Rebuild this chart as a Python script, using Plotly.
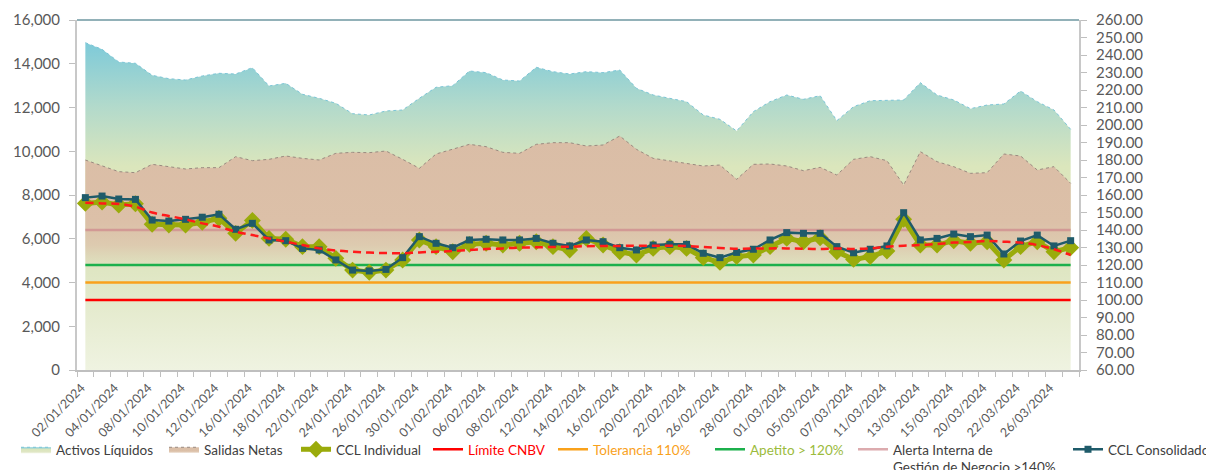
import plotly.graph_objects as go

dates = [
    "02/01/2024", "03/01/2024", "04/01/2024", "05/01/2024",
    "08/01/2024", "09/01/2024", "10/01/2024", "11/01/2024", "12/01/2024",
    "15/01/2024", "16/01/2024", "17/01/2024", "18/01/2024", "19/01/2024",
    "22/01/2024", "23/01/2024", "24/01/2024", "25/01/2024", "26/01/2024",
    "29/01/2024", "30/01/2024", "31/01/2024", "01/02/2024", "02/02/2024",
    "06/02/2024", "07/02/2024", "08/02/2024", "09/02/2024",
    "12/02/2024", "13/02/2024", "14/02/2024", "15/02/2024", "16/02/2024",
    "19/02/2024", "20/02/2024", "21/02/2024", "22/02/2024", "23/02/2024",
    "26/02/2024", "27/02/2024", "28/02/2024", "29/02/2024", "01/03/2024",
    "04/03/2024", "05/03/2024", "06/03/2024", "07/03/2024", "08/03/2024",
    "11/03/2024", "12/03/2024", "13/03/2024", "14/03/2024", "15/03/2024",
    "19/03/2024", "20/03/2024", "21/03/2024", "22/03/2024",
    "25/03/2024", "26/03/2024", "27/03/2024",
]

activos_liquidos = [
    14963, 14659, 14080, 14020, 13470, 13317, 13257, 13440, 13563, 13531,
    13820, 12983, 13106, 12603, 12420, 12191, 11717, 11657, 11840, 11886,
    12420, 12923, 12997, 13669, 13593, 13257, 13211, 13837, 13639, 13531,
    13639, 13593, 13714, 12876, 12571, 12420, 12267, 11657, 11459, 10926,
    11810, 12267, 12571, 12374, 12541, 11397, 12037, 12311, 12311, 12343,
    13135, 12571, 12343, 11947, 12114, 12160, 12754, 12267, 11886, 11002,
]

salidas_netas = [
    9600, 9326, 9067, 9021, 9402, 9295, 9189, 9250, 9250, 9752,
    9570, 9630, 9783, 9676, 9600, 9905, 9950, 9935, 10011, 9630,
    9219, 9874, 10088, 10316, 10210, 9950, 9905, 10316, 10392, 10392,
    10240, 10286, 10697, 10088, 9676, 9570, 9448, 9326, 9371, 8716,
    9402, 9417, 9326, 9112, 9265, 8914, 9630, 9752, 9570, 8457,
    9981, 9524, 9295, 8990, 9021, 9874, 9783, 9143, 9295, 8533,
]

ccl_individual = [
    155.2, 156.0, 154.3, 155.0, 143.3, 142.9, 142.9, 144.4, 146.7, 138.1,
    145.5, 135.2, 134.7, 130.5, 130.5, 123.8, 117.1, 115.8, 117.1, 122.9,
    134.3, 130.5, 127.6, 131.8, 132.4, 131.4, 132.4, 133.3, 130.5, 128.6,
    135.2, 131.4, 127.6, 125.7, 129.5, 130.5, 129.5, 124.2, 121.5, 124.8,
    125.7, 130.5, 135.2, 133.3, 135.6, 127.6, 123.2, 124.8, 128.0, 146.1,
    131.4, 131.4, 133.9, 132.4, 133.3, 122.9, 130.5, 133.3, 127.6, 129.9,
]

ccl_consolidado = [
    158.5, 159.4, 157.7, 157.5, 145.7, 145.1, 146.1, 147.3, 149.0, 140.4,
    143.8, 134.3, 133.9, 129.5, 128.6, 122.9, 117.1, 116.6, 117.5, 124.2,
    136.2, 132.4, 129.9, 134.3, 134.7, 134.3, 134.3, 135.2, 132.4, 130.9,
    134.3, 133.3, 129.9, 128.6, 131.4, 131.8, 131.8, 126.7, 124.2, 127.2,
    129.0, 134.3, 138.5, 138.1, 138.1, 130.5, 127.0, 129.0, 130.9, 149.9,
    134.3, 135.2, 137.7, 136.2, 137.1, 126.3, 133.7, 137.1, 130.9, 133.9,
]

tendencia = [
    155.6, 155.2, 154.9, 153.3, 150.0, 148.0, 146.1, 143.8, 141.9, 139.0,
    137.1, 135.2, 133.3, 131.4, 129.5, 128.3, 127.6, 127.1, 126.8, 126.7,
    127.2, 127.6, 128.0, 128.6, 129.1, 129.5, 129.9, 130.1, 130.3, 130.5,
    130.7, 130.9, 130.9, 131.0, 131.0, 131.0, 130.9, 130.3, 129.7, 129.3,
    129.4, 129.5, 129.5, 129.3, 129.2, 129.5, 129.2, 129.5, 130.5, 131.0,
    131.4, 132.0, 132.8, 133.1, 133.7, 133.3, 132.8, 131.4, 129.0, 125.7,
]

limite_cnbv = 100
tolerancia = 110
apetito = 120
alerta = 140

tick_labels = [d if i % 2 == 0 else "" for i, d in enumerate(dates)]

FONT = "Lato"
GRAY = "#595959"
W, H = 1206, 462   # the page body adds an 8px offset

fig = go.Figure()

fig.add_trace(go.Scatter(
    x=dates, y=activos_liquidos, mode="lines", fill="tozeroy",
    name='<span style="color:#404040">Activos Líquidos</span>',
    line=dict(color="#7cc5d6", width=1, dash="dot"),
    fillgradient=dict(type="vertical", start=0, stop=15000,
                      colorscale=[[0, "#eff3e1"], [0.3, "#dfe6c3"],
                                  [0.62, "#dbe6bc"], [0.8, "#b3dacb"],
                                  [1, "#7dcad9"]]),
    legend="legend",
))
fig.add_trace(go.Scatter(
    x=dates, y=salidas_netas, mode="lines", fill="tozeroy",
    name='<span style="color:#404040">Salidas Netas</span>',
    line=dict(color="#9a8a80", width=1, dash="dot"),
    fillgradient=dict(type="vertical", start=4600, stop=10700,
                      colorscale=[[0, "rgba(221,196,170,0)"],
                                  [0.18, "rgba(221,194,170,0.75)"],
                                  [0.35, "rgba(220,192,168,1)"],
                                  [1, "rgba(218,189,166,1)"]]),
    legend="legend2",
))

for val, color, nm, lg, w in [
    (limite_cnbv, "#ff0000", '<span style="color:#ff0000">Límite CNBV</span>', "legend4", 2.5),
    (tolerancia, "#f9a11b", '<span style="color:#f9a11b">Tolerancia 110%</span>', "legend5", 2.5),
    (apetito, "#1cb04c", '<span style="color:#9bbb3c">Apetito &gt; 120%</span>', "legend6", 2.5),
    (alerta, "rgba(205,135,140,0.7)", '<span style="color:#404040">Alerta Interna de<br>Gestión de Negocio &gt;140%</span>', "legend7", 2.5),
]:
    fig.add_trace(go.Scatter(
        x=dates, y=[val] * len(dates), mode="lines", yaxis="y2",
        name=nm, line=dict(color=color, width=w), legend=lg,
    ))

fig.add_trace(go.Scatter(
    x=dates, y=ccl_individual, mode="lines+markers", yaxis="y2",
    name='<span style="color:#404040">CCL Individual</span>',
    line=dict(color="#9aab0b", width=5),
    marker=dict(symbol="diamond", size=13, color="#9aab0b"),
    legend="legend3",
))
fig.add_trace(go.Scatter(
    x=dates, y=ccl_consolidado, mode="lines+markers", yaxis="y2",
    name='<span style="color:#404040">CCL Consolidado</span>',
    line=dict(color="#1f5b6a", width=2.5),
    marker=dict(symbol="square", size=7, color="#1f5b6a"),
    legend="legend8",
))
fig.add_trace(go.Scatter(
    x=dates, y=tendencia, mode="lines", yaxis="y2", showlegend=False,
    line=dict(color="#ff1a1a", width=2.5, dash="8px,5px", shape="spline"),
    hoverinfo="skip",
))

legend_pos = {
    "legend": 8, "legend2": 156, "legend3": 288, "legend4": 420,
    "legend5": 545, "legend6": 702, "legend7": 845, "legend8": 1060,
}
layout_legends = {}
for key, px in legend_pos.items():
    layout_legends[key] = dict(
        xref="container", yref="container", x=px / W, y=1 - 426 / H,
        xanchor="left", yanchor="top", orientation="h", valign="top",
        bgcolor="rgba(0,0,0,0)", font=dict(family=FONT, size=13.5, color="#404040"),
        itemwidth=30, tracegroupgap=0,
    )

fig.update_layout(
    width=W, height=H,
    margin=dict(l=69, r=135, t=12, b=100, autoexpand=False),
    paper_bgcolor="white", plot_bgcolor="white",
    font=dict(family=FONT, size=14, color=GRAY),
    xaxis=dict(
        type="category", range=[-0.5, len(dates) - 0.5], automargin=False,
        tickmode="array", tickvals=dates, ticktext=tick_labels,
        tickangle=-45, tickson="boundaries", ticks="outside", ticklen=5,
        ticklabelstandoff=4, ticklabelshift=-4,
        tickcolor="#bfbfbf", showline=True, linecolor="#bfbfbf", linewidth=1.5,
        showgrid=False, zeroline=False,
        tickfont=dict(family=FONT, size=12.5, color=GRAY),
    ),
    yaxis=dict(
        range=[0, 16000], tickmode="linear", tick0=0, dtick=2000, automargin=False,
        tickformat=",d", ticks="outside", ticklen=6, tickcolor="#bfbfbf",
        ticklabelstandoff=6,
        showline=True, linecolor="#c8c8c8", linewidth=2,
        showgrid=False, zeroline=False,
        tickfont=dict(family=FONT, size=15, color=GRAY),
    ),
    yaxis2=dict(
        range=[60, 260], overlaying="y", side="right", tickmode="linear",
        automargin=False, ticklabelstandoff=6,
        tick0=60, dtick=10, tickformat=".2f", ticks="outside", ticklen=6,
        tickcolor="#bfbfbf", showline=True, linecolor="#c8c8c8", linewidth=2,
        showgrid=False, zeroline=False,
        tickfont=dict(family=FONT, size=15, color=GRAY),
    ),
    shapes=[dict(type="line", xref="paper", yref="paper", x0=0, x1=1, y0=1, y1=1,
                 line=dict(color="#6e97a0", width=1.5))],
    **layout_legends,
)

fig.write_html("out.html")
